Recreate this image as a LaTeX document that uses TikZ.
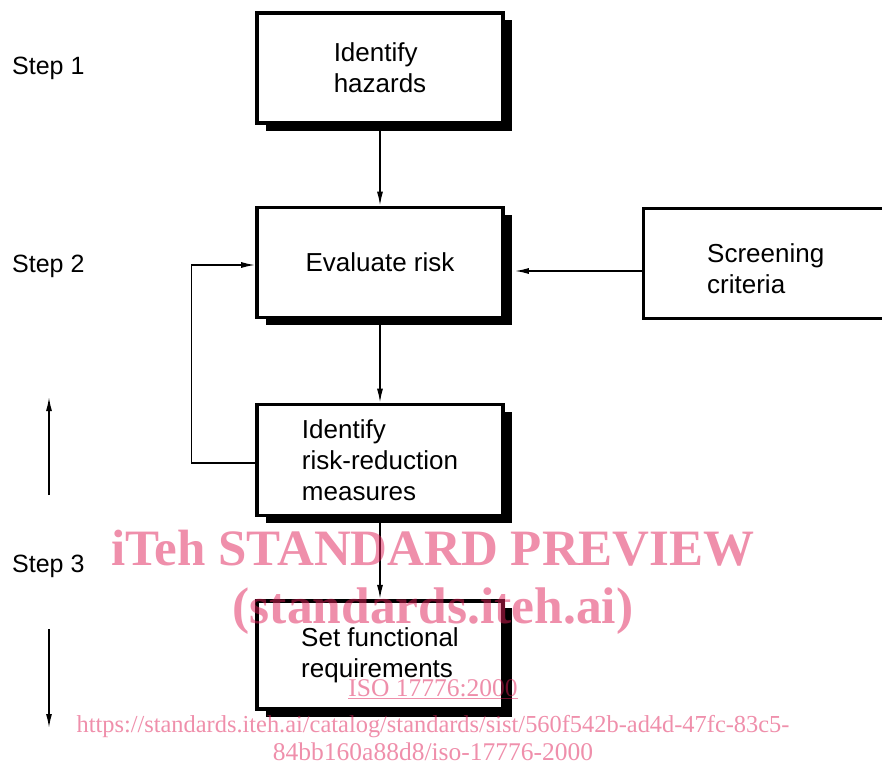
\documentclass[tikz,border=0pt]{standalone}
\usepackage{fontspec}
\setmainfont{Liberation Sans}
\newfontfamily\wmserif{Liberation Serif}
\usetikzlibrary{arrows.meta,shadows}
\definecolor{wmred}{RGB}{223,31,87}
\begin{document}
\begin{tikzpicture}[x=1pt,y=-1pt,
  box/.style={draw, line width=3.6pt, fill=white, minimum width=246pt,
    inner sep=0pt, align=left, font=\fontsize{26}{31}\selectfont,
    drop shadow={shadow xshift=9pt, shadow yshift=-7.5pt, fill=black, opacity=1}},
  plainbox/.style={draw, line width=3pt, fill=white, minimum width=244.5pt,
    minimum height=110pt, inner sep=0pt},
  boxtext/.style={inner sep=0pt, align=left, font=\fontsize{26}{31}\selectfont},
  arr/.style={line width=1.5pt, -{Latex[length=14pt,width=6pt]}},
  steplabel/.style={anchor=base west, inner sep=0pt, font=\fontsize{25}{30}\selectfont},
  wm/.style={text=wmred, opacity=0.5, inner sep=0pt, anchor=base}]
\useasboundingbox (0,0) rectangle (882,765);

% boxes
\node[box, minimum height=110pt] (b1) at (380,68) {Identify\\hazards};
\node[box, minimum height=110pt] (b2) at (380,262.5) {Evaluate risk};
\node[box, minimum height=111pt] (b3) at (380,460) {Identify\\risk-reduction\\measures};
\node[box, minimum height=108.5pt] (b4) at (380,655) {Set functional\\requirements};
\node[plainbox] (scr) at (765.75,263.5) {};
\node[boxtext] (scrt) at (765.75,268.5) {Screening\\criteria};

% connectors
\draw[arr] (b1) -- (b2);
\draw[arr] (b2) -- (b3);
\draw[arr] (b3) -- (b4);
\draw[arr] ([yshift=-7.5pt]scr.west) -- ([yshift=-8.5pt,xshift=10pt]b2.east);
\draw[arr] ([yshift=-3pt]b3.west) -- ++(-63.8,0) |- ([yshift=-2.5pt]b2.west);

% side arrows
\coordinate (u0) at (49,495);
\coordinate (u1) at (49,397);
\coordinate (d0) at (49,629);
\coordinate (d1) at (49,728);
\draw[arr] (u0) -- (u1);
\draw[arr] (d0) -- (d1);

% step labels
\node[steplabel] (s1) at (12,75) {Step 1};
\node[steplabel] (s2) at (12,272) {Step 2};
\node[steplabel] (s3) at (12,572) {Step 3};

% watermark
\node[wm, font=\wmserif\bfseries\fontsize{51}{51}\selectfont] (w1) at (433,565) {iTeh STANDARD PREVIEW};
\node[wm, font=\wmserif\bfseries\fontsize{51.5}{51}\selectfont] (w2) at (433,623) {(standards.iteh.ai)};
\node[wm, font=\wmserif\fontsize{25.5}{26}\selectfont] (w3) at (433,696) {\underline{ISO 17776:2000}};
\node[wm, font=\wmserif\fontsize{24.4}{26}\selectfont] (w4) at (433,732) {https://standards.iteh.ai/catalog/standards/sist/560f542b-ad4d-47fc-83c5-};
\node[wm, font=\wmserif\fontsize{25.5}{26}\selectfont] (w5) at (433,760) {84bb160a88d8/iso-17776-2000};
\end{tikzpicture}
\end{document}
